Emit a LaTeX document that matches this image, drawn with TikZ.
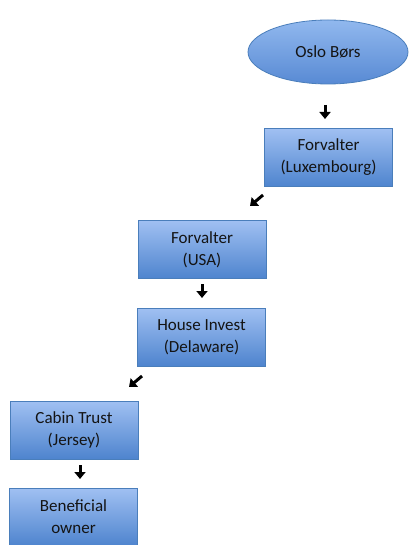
\documentclass[tikz,border=0pt]{standalone}
\usepackage{fontspec}
\setmainfont{Carlito}
\usetikzlibrary{shapes.geometric,arrows.meta}
\definecolor{boxtop}{RGB}{160,192,242}
\definecolor{boxbot}{RGB}{78,132,206}
\definecolor{boxline}{RGB}{74,126,187}
\definecolor{eltop}{RGB}{145,184,238}
\definecolor{elbot}{RGB}{88,138,212}
\definecolor{txt}{RGB}{20,20,20}
\tikzset{
  entity/.style={rectangle, draw=boxline, line width=0.8pt, top color=boxtop, bottom color=boxbot,
    minimum width=128pt, minimum height=58pt, align=center, text=txt,
    font=\fontsize{17}{22}\selectfont},
  exchange/.style={ellipse, draw=boxline, line width=0.8pt, top color=eltop, bottom color=elbot,
    minimum width=160pt, minimum height=64pt, text=txt, font=\fontsize{17}{22}\selectfont},
  flow/.style={-{Triangle[length=7pt,width=11pt]}, line width=3pt, black}
}
\begin{document}
\begin{tikzpicture}[x=1pt,y=-1pt]
\useasboundingbox[fill=white] (0,0) rectangle (409,545);
\node[exchange] (oslo) at (328,52) {Oslo Børs};
\node[entity] (lux) at (328.5,157.5) {Forvalter\\(Luxembourg)};
\node[entity] (usa) at (202,249.5) {Forvalter\\(USA)};
\node[entity] (house) at (201.5,337) {House Invest\\(Delaware)};
\node[entity] (cabin) at (74,430) {Cabin Trust\\(Jersey)};
\node[entity] (owner) at (73.5,517) {Beneficial\\owner};
\coordinate (a1s) at (325,105); \coordinate (a1e) at (325,119);
\coordinate (a2s) at (263,195); \coordinate (a2e) at (250,206);
\coordinate (a3s) at (202,284); \coordinate (a3e) at (202,298);
\coordinate (a4s) at (142,376); \coordinate (a4e) at (129,387);
\coordinate (a5s) at (80,465); \coordinate (a5e) at (80,479);
\draw[flow] (a1s) -- (a1e);
\draw[flow] (a2s) -- (a2e);
\draw[flow] (a3s) -- (a3e);
\draw[flow] (a4s) -- (a4e);
\draw[flow] (a5s) -- (a5e);
\end{tikzpicture}
\end{document}
